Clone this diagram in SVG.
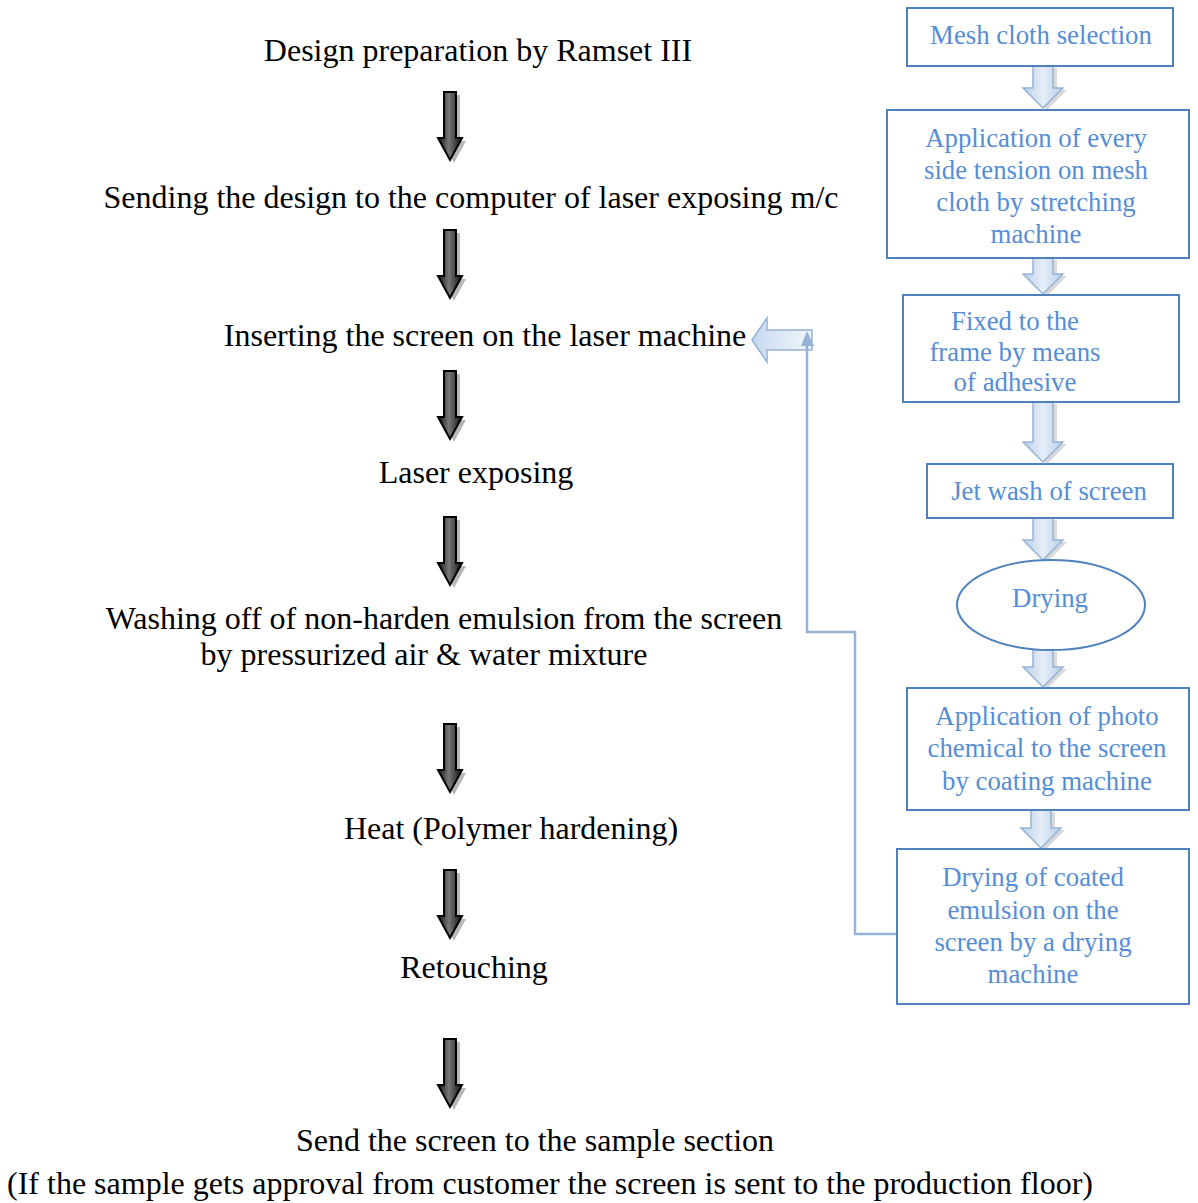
<svg xmlns="http://www.w3.org/2000/svg" width="1198" height="1203" viewBox="0 0 1198 1203">
<style>
.lt{font-family:"Liberation Serif","Times New Roman",serif;font-size:32px;fill:#000;text-anchor:middle}
.bt{font-family:"Liberation Serif","Times New Roman",serif;font-size:26.8px;fill:#558ed5;text-anchor:middle}
.box{fill:#fff;stroke:#4f81bd;stroke-width:2}
.ba{fill:url(#bg);stroke:#95b3d7;stroke-width:1.5}
.bs{fill:#bfbfbf;opacity:0.6}
.ka{fill:url(#kg);stroke:#000;stroke-width:2}
.ks{fill:#999;opacity:0.7}
.con{fill:none;stroke:#95b3d7;stroke-width:2.5}
</style>
<defs>
<linearGradient id="kg" x1="0" y1="0" x2="1" y2="0">
<stop offset="0" stop-color="#111"/><stop offset="0.45" stop-color="#777"/><stop offset="1" stop-color="#111"/>
</linearGradient>
<linearGradient id="bg" x1="0" y1="0" x2="1" y2="0">
<stop offset="0" stop-color="#b9cde5"/><stop offset="0.5" stop-color="#e6eef8"/><stop offset="1" stop-color="#b9cde5"/>
</linearGradient>
<linearGradient id="lg" x1="0" y1="0" x2="1" y2="0">
<stop offset="0" stop-color="#c6d9f1"/><stop offset="1" stop-color="#f2f6fb"/>
</linearGradient>
<path id="karrow" d="M-6,0 H6 V46 H12 L0,68 L-12,46 H-6 Z"/>
</defs>

<g id="left-arrows">
<g transform="translate(450,92)"><use href="#karrow" class="ks" transform="translate(4,3)"/><use href="#karrow" class="ka"/></g>
<g transform="translate(450,230)"><use href="#karrow" class="ks" transform="translate(4,3)"/><use href="#karrow" class="ka"/></g>
<g transform="translate(450,371)"><use href="#karrow" class="ks" transform="translate(4,3)"/><use href="#karrow" class="ka"/></g>
<g transform="translate(450,517)"><use href="#karrow" class="ks" transform="translate(4,3)"/><use href="#karrow" class="ka"/></g>
<g transform="translate(450,724)"><use href="#karrow" class="ks" transform="translate(4,3)"/><use href="#karrow" class="ka"/></g>
<g transform="translate(450,870)"><use href="#karrow" class="ks" transform="translate(4,3)"/><use href="#karrow" class="ka"/></g>
<g transform="translate(450,1039)"><use href="#karrow" class="ks" transform="translate(4,3)"/><use href="#karrow" class="ka"/></g>
</g>

<g id="left-steps">
<g id="step1"><text class="lt" x="478" y="61">Design preparation by Ramset III</text></g>
<g id="step2"><text class="lt" x="471" y="208">Sending the design to the computer of laser exposing m/c</text></g>
<g id="step3"><text class="lt" x="485" y="346">Inserting the screen on the laser machine</text></g>
<g id="step4"><text class="lt" x="476" y="483">Laser exposing</text></g>
<g id="step5"><text class="lt" x="444" y="629">Washing off of non-harden emulsion from the screen</text><text class="lt" x="424" y="665">by pressurized air &amp; water mixture</text></g>
<g id="step6"><text class="lt" x="511" y="839">Heat (Polymer hardening)</text></g>
<g id="step7"><text class="lt" x="474" y="978">Retouching</text></g>
<g id="step8"><text class="lt" x="535" y="1151">Send the screen to the sample section</text><text class="lt" x="550" y="1194">(If the sample gets approval from customer the screen is sent to the production floor)</text></g>
</g>

<g id="connectors">
<g transform="translate(1043,66)"><path class="bs" transform="translate(4,2)" d="M-10,0 H10 V22 H20 L0,42 L-20,22 H-10 Z"/><path class="ba" d="M-10,0 H10 V22 H20 L0,42 L-20,22 H-10 Z"/></g>
<g transform="translate(1043,258)"><path class="bs" transform="translate(4,2)" d="M-10,0 H10 V16 H20 L0,36 L-20,16 H-10 Z"/><path class="ba" d="M-10,0 H10 V16 H20 L0,36 L-20,16 H-10 Z"/></g>
<g transform="translate(1043,402)"><path class="bs" transform="translate(4,2)" d="M-10,0 H10 V40 H20 L0,60 L-20,40 H-10 Z"/><path class="ba" d="M-10,0 H10 V40 H20 L0,60 L-20,40 H-10 Z"/></g>
<g transform="translate(1043,518)"><path class="bs" transform="translate(4,2)" d="M-10,0 H10 V22 H20 L0,42 L-20,22 H-10 Z"/><path class="ba" d="M-10,0 H10 V22 H20 L0,42 L-20,22 H-10 Z"/></g>
<g transform="translate(1043,650)"><path class="bs" transform="translate(4,2)" d="M-10,0 H10 V17 H20 L0,37 L-20,17 H-10 Z"/><path class="ba" d="M-10,0 H10 V17 H20 L0,37 L-20,17 H-10 Z"/></g>
<g transform="translate(1041,810)"><path class="bs" transform="translate(4,2)" d="M-10,0 H10 V18 H20 L0,38 L-20,18 H-10 Z"/><path class="ba" d="M-10,0 H10 V18 H20 L0,38 L-20,18 H-10 Z"/></g>
<path d="M752,340 L767,318 V330 H812 V350 H767 V362 Z" fill="url(#lg)" stroke="#95b3d7" stroke-width="1.5"/>
<path class="con" d="M897,934 H855 V632 H807 V345"/>
<path d="M801,346 L807,331 L814,346 Z" fill="#95b3d7"/>
</g>

<g id="n1"><rect class="box" x="907" y="8" width="266" height="58"/><text class="bt" x="1041" y="44">Mesh cloth selection</text></g>
<g id="n2"><rect class="box" x="887" y="110" width="302" height="148"/>
<text class="bt" x="1036" y="147">Application of every</text><text class="bt" x="1036" y="179">side tension on mesh</text><text class="bt" x="1036" y="211">cloth by stretching</text><text class="bt" x="1036" y="243">machine</text></g>
<g id="n3"><rect class="box" x="903" y="295" width="276" height="107"/>
<text class="bt" x="1015" y="330">Fixed to the</text><text class="bt" x="1015" y="361">frame by means</text><text class="bt" x="1015" y="391">of adhesive</text></g>
<g id="n4"><rect class="box" x="927" y="464" width="246" height="54"/><text class="bt" x="1049" y="500">Jet wash of screen</text></g>
<g id="n5"><ellipse class="box" cx="1051" cy="605" rx="94" ry="45"/><text class="bt" x="1050" y="607">Drying</text></g>
<g id="n6"><rect class="box" x="907" y="688" width="282" height="122"/>
<text class="bt" x="1047" y="725">Application of photo</text><text class="bt" x="1047" y="757">chemical to the screen</text><text class="bt" x="1047" y="790">by coating machine</text></g>
<g id="n7"><rect class="box" x="897" y="849" width="292" height="155"/>
<text class="bt" x="1033" y="886">Drying of coated</text><text class="bt" x="1033" y="919">emulsion on the</text><text class="bt" x="1033" y="951">screen by a drying</text><text class="bt" x="1033" y="983">machine</text></g>
</svg>
